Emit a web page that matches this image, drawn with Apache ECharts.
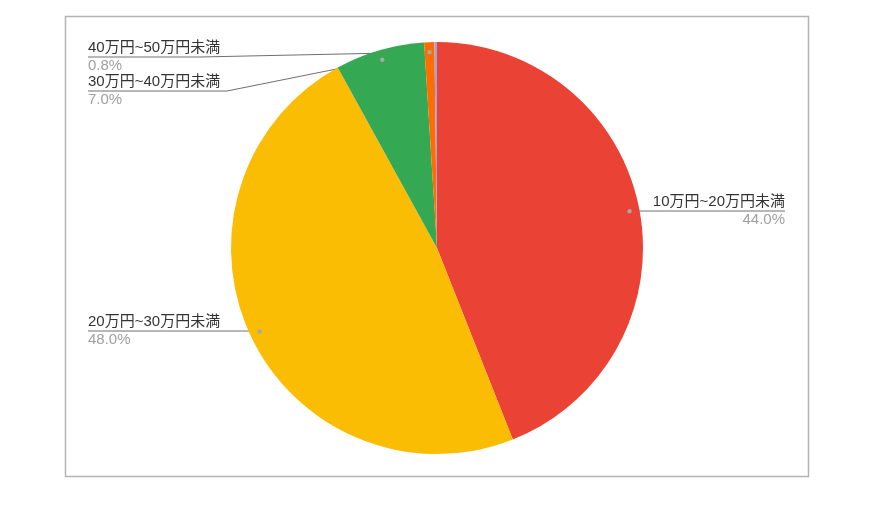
<!DOCTYPE html>
<html><head><meta charset="utf-8">
<script src="https://cdn.jsdelivr.net/npm/echarts@6/dist/echarts.min.js"></script>
<style>html,body{margin:0;padding:0;background:#fff}#c{width:870px;height:526px}</style>
</head><body><div id="c"></div>
<script>
// ---- data ----
const categories = ['10万円~20万円未満', '20万円~30万円未満', '30万円~40万円未満', '40万円~50万円未満', '50万円以上'];
const values = [44.0, 48.0, 7.0, 0.8, 0.2];
const showLabel = [true, true, true, true, false];

// ---- style / layout ----
const colors = ['#ea4335', '#fbbc04', '#34a853', '#ff6d01', '#9fa3e0'];
const CX = 437, CY = 248, R = 206, DOT_R = 196;
const labelLineY = [211, 331, 91, 57, null];
const labelBendX = [null, null, 227, 200, null];
const RIGHT_X = 785, LEFT_X = 88;
const FONT = '"Liberation Sans", Arial, "Noto Sans CJK JP", sans-serif';

const total = values.reduce((a, b) => a + b, 0);
function anchor(i) {
  let cum = 0;
  for (let k = 0; k < i; k++) cum += values[k];
  const a = (cum + values[i] / 2) / total * Math.PI * 2;
  return [CX + DOT_R * Math.sin(a), CY - DOT_R * Math.cos(a), Math.sin(a) >= 0];
}

const chart = echarts.init(document.getElementById('c'), null, {renderer: 'canvas'});

const dots = [];
values.forEach((v, i) => {
  if (!showLabel[i]) return;
  const p = anchor(i);
  dots.push({type: 'circle', z: 100, silent: true, shape: {cx: p[0], cy: p[1], r: 2.2}, style: {fill: '#a8a8a8'}});
});

chart.setOption({
  animation: false,
  backgroundColor: '#fff',
  graphic: [
    {type: 'rect', z: -1, silent: true, shape: {x: 65.5, y: 16.5, width: 743, height: 460},
     style: {fill: 'none', stroke: '#b4b4b4', lineWidth: 1.5}}
  ].concat(dots),
  series: [{
    type: 'pie',
    center: [CX, CY],
    radius: R,
    startAngle: 90,
    clockwise: true,
    avoidLabelOverlap: false,
    emphasis: {disabled: true},
    data: categories.map((c, i) => ({
      name: c,
      value: values[i],
      itemStyle: {color: colors[i]},
      label: {show: showLabel[i]},
      labelLine: {show: showLabel[i]}
    })),
    label: {
      show: true,
      position: 'outside',
      fontFamily: FONT,
      formatter: p => '{n|' + p.name + '}\n{p|' + p.value.toFixed(1) + '%}',
      rich: {
        n: {fontSize: 15, color: '#333', lineHeight: 18, fontFamily: FONT},
        p: {fontSize: 15, color: '#a0a0a0', lineHeight: 18, fontFamily: FONT}
      }
    },
    labelLine: {show: true, length: 10, length2: 10, lineStyle: {color: '#707070', width: 1}},
    labelLayout: function (params) {
      const i = params.dataIndex;
      if (!showLabel[i]) return {};
      const a = anchor(i);
      const right = a[2];
      const y = labelLineY[i];
      const endX = right ? RIGHT_X : LEFT_X;
      const bend = labelBendX[i] != null ? [labelBendX[i], y] : [a[0], y];
      return {
        x: endX, y: y,
        align: right ? 'right' : 'left',
        verticalAlign: 'middle',
        labelLinePoints: [[a[0], a[1]], bend, [endX, y]]
      };
    }
  }]
});
</script></body></html>
